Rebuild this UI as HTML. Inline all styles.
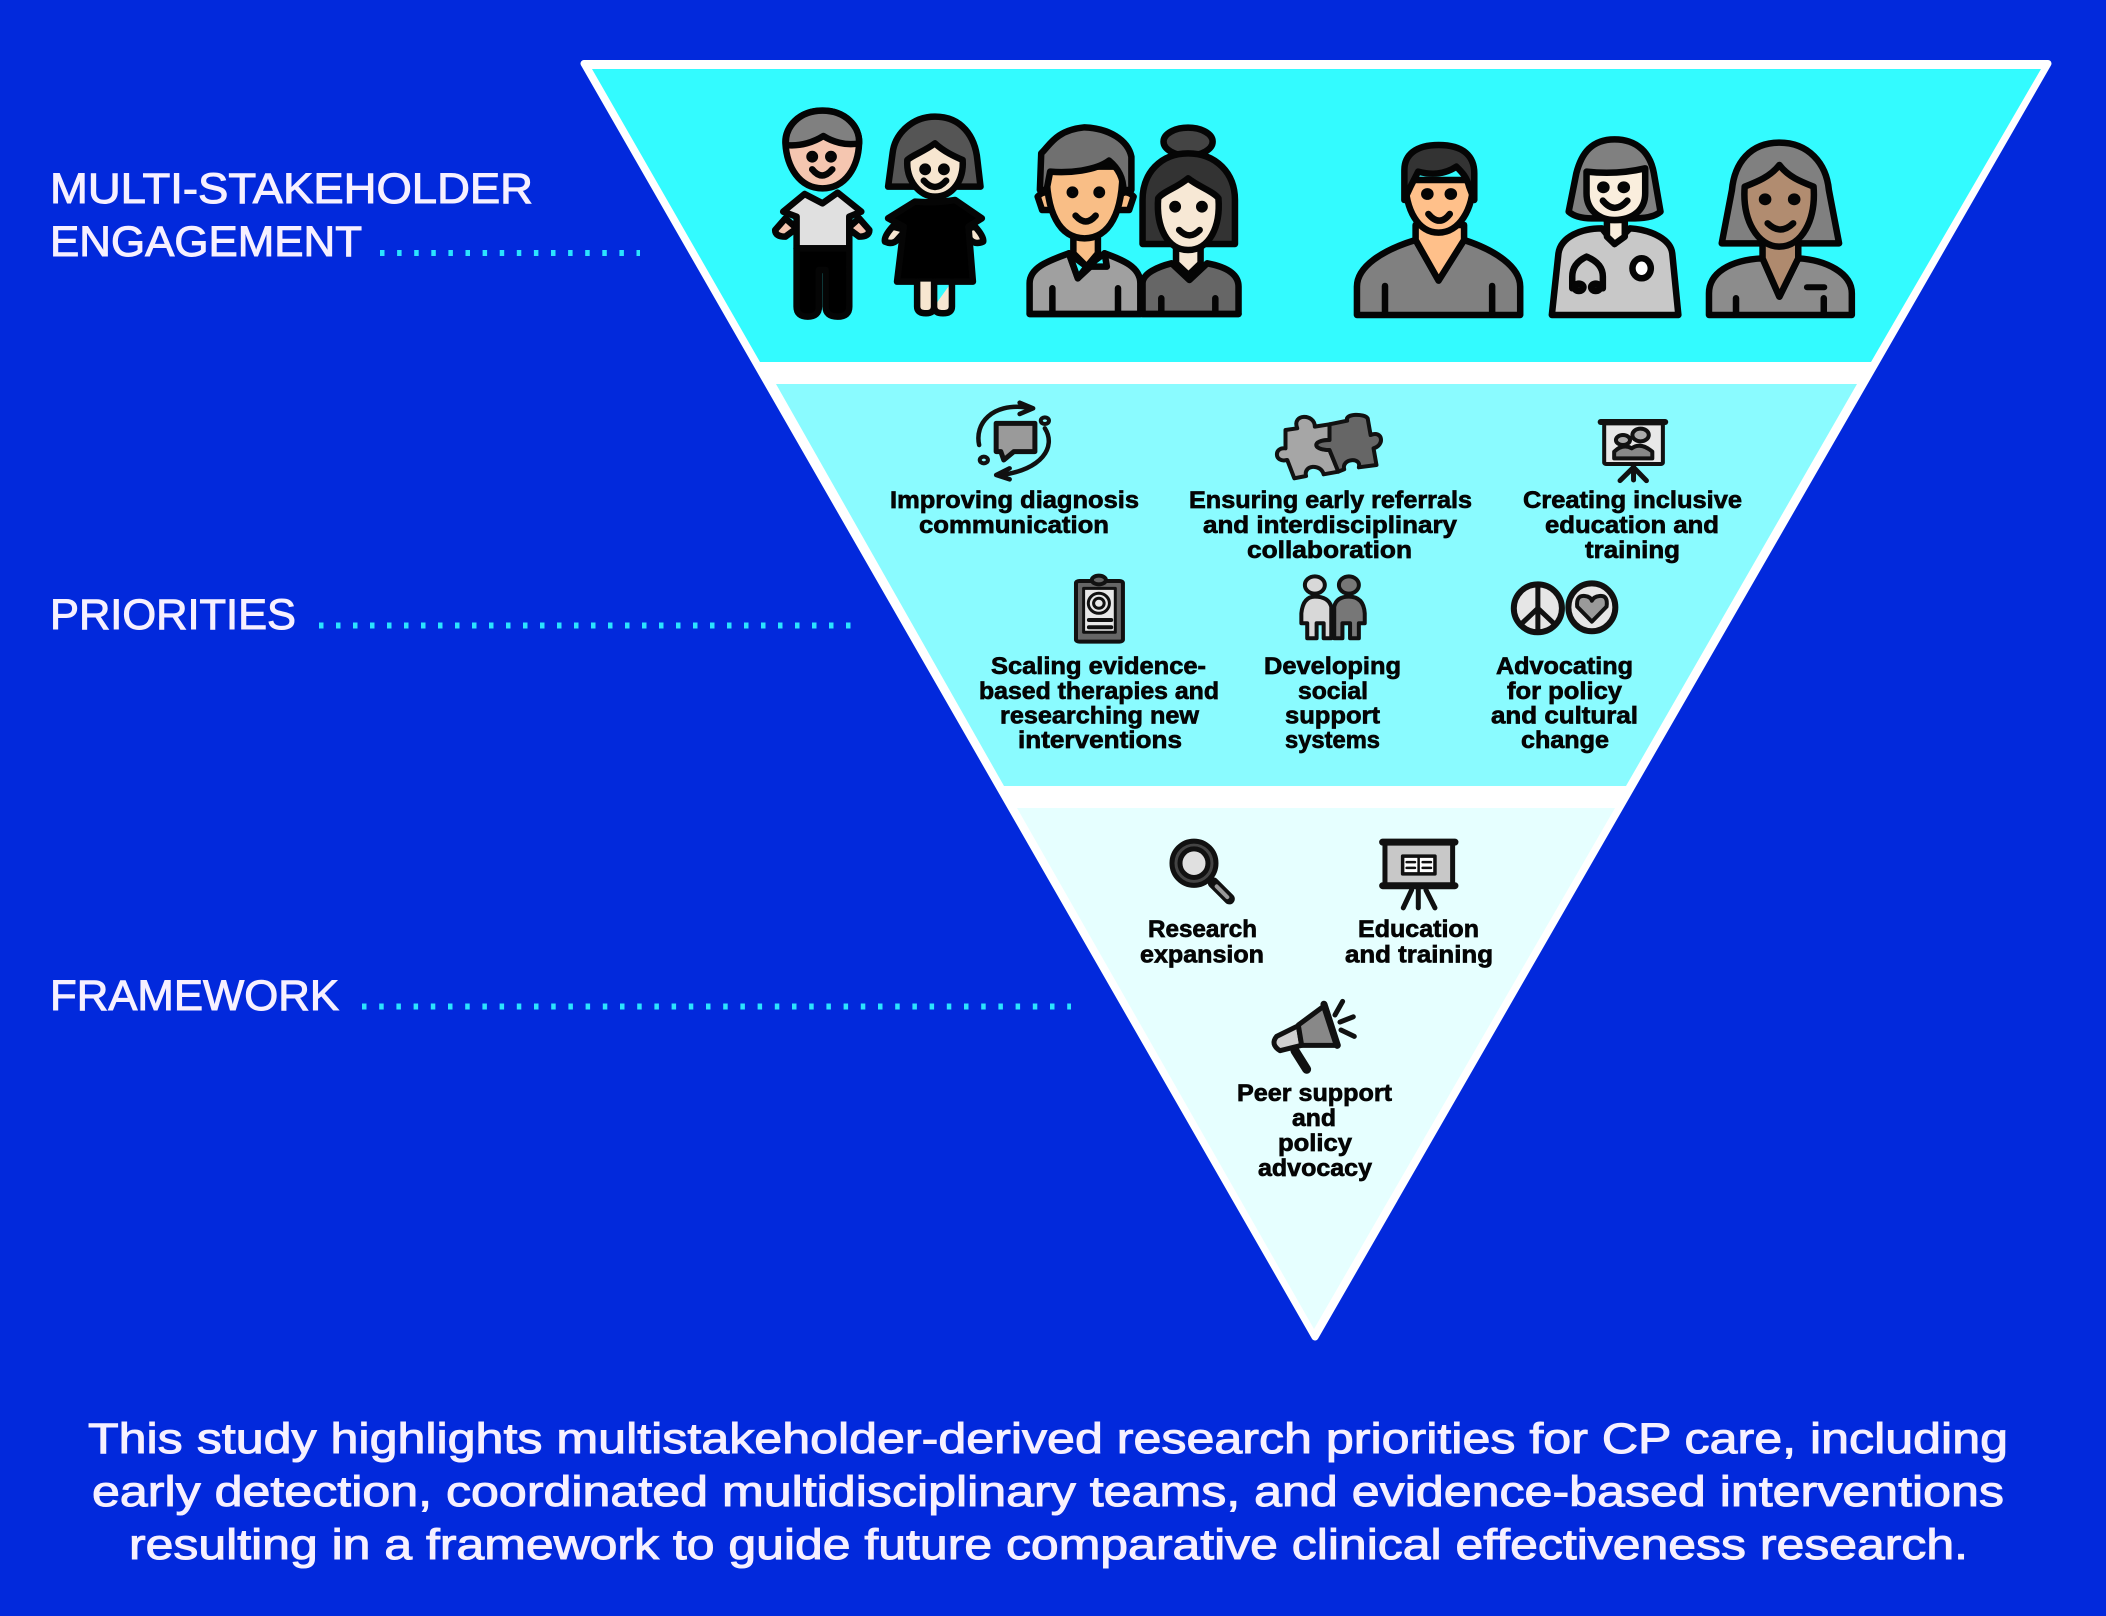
<!DOCTYPE html>
<html><head><meta charset="utf-8"><style>
html,body{margin:0;padding:0;background:#0229dc}
svg{display:block}
text{font-family:"Liberation Sans",sans-serif}
.h{font-size:43px;fill:#f6f0ff;stroke:#f6f0ff;stroke-width:1}
.b{font-size:43px;fill:#f6f0ff;stroke:#f6f0ff;stroke-width:1}
.l{font-size:24.5px;font-weight:bold;fill:#050505;stroke:#050505;stroke-width:.7}
.i *{vector-effect:non-scaling-stroke;stroke-linejoin:round;stroke-linecap:round}
.s5 *{stroke:#050505;stroke-width:6.5}
.s3 *{stroke:#111;stroke-width:4}
.s4 *{stroke:#111;stroke-width:5}
</style></head><body>
<svg xmlns="http://www.w3.org/2000/svg" width="2106" height="1616" viewBox="0 0 2106 1616">
<rect width="2106" height="1616" fill="#0229dc"/>
<polygon points="584,63.5 2048,63.5 1315,1337" fill="#fff" stroke="#fff" stroke-width="7" stroke-linejoin="round"/>
<polygon points="592,69 2041,69 1871,362 760,362" fill="#33fbff"/>
<polygon points="776,384 1857,384 1626,786 1004,786" fill="#8afbff"/>
<polygon points="1017,808 1615,808 1314,1329" fill="#e6ffff"/>

<!-- headings -->
<text class="h" x="50" y="203" textLength="483" lengthAdjust="spacingAndGlyphs">MULTI-STAKEHOLDER</text>
<text class="h" x="50" y="256" textLength="312" lengthAdjust="spacingAndGlyphs">ENGAGEMENT</text>
<text class="h" x="50" y="629" textLength="246" lengthAdjust="spacingAndGlyphs">PRIORITIES</text>
<text class="h" x="50" y="1010" textLength="289" lengthAdjust="spacingAndGlyphs">FRAMEWORK</text>
<g stroke="#2be3ff" stroke-width="6" fill="none">
<line x1="380" y1="253" x2="640" y2="253" stroke-dasharray="4.5 12.6"/>
<line x1="319" y1="625.5" x2="852" y2="625.5" stroke-dasharray="4.5 12.5"/>
<line x1="362" y1="1006.5" x2="1071" y2="1006.5" stroke-dasharray="4.5 12.7"/>
</g>

<!-- people left -->
<g class="i s5" transform="translate(560 40) scale(.4464 .3333)">
 <path fill="#f5c6b0" d="M588 212C640 212 672 260 670 310C668 380 640 445 588 445C536 445 508 380 505 310C503 260 536 212 588 212Z"/>
 <path fill="#808080" d="M588 212C640 212 672 260 670 310C640 318 610 305 590 288C570 305 540 320 506 315C503 260 536 212 588 212Z"/>
 <ellipse fill="#111" cx="565" cy="350" rx="6" ry="8"/><ellipse fill="#111" cx="607" cy="350" rx="6" ry="8"/>
 <path fill="none" d="M565 388Q587 425 610 388"/>
 <path fill="#f5c6b0" d="M505 535L482 570Q482 590 505 590L530 565ZM670 535L693 570Q693 590 670 590L645 565Z"/>
 <path fill="#e0e0e0" d="M548 462L588 490L622 458L675 515L648 530V625H530V530L500 515Z"/>
 <path fill="#000" d="M530 625H648V800Q648 830 622 830Q595 830 595 800V690H580V800Q580 830 555 830Q530 830 530 800Z"/>

 <path fill="#555" d="M840 230C900 230 930 290 935 360L942 440H735L745 340C750 280 790 230 840 230Z"/>
 <path fill="#f7e6d0" d="M840 310C815 335 790 345 778 360C775 420 805 470 840 470C880 470 905 420 902 360C885 350 860 335 840 310Z"/>
 <ellipse fill="#111" cx="818" cy="388" rx="6" ry="8"/><ellipse fill="#111" cx="860" cy="388" rx="6" ry="8"/>
 <path fill="none" d="M815 422Q840 460 865 422"/>
 <path fill="#f7e6d0" d="M745 560Q725 590 728 605Q745 615 755 600L775 570ZM930 560Q950 590 948 605Q930 615 920 600L900 570Z"/>
 <path fill="#000" d="M795 485Q840 490 885 480L945 535L915 560L925 725H755L770 560L735 535Z"/>
 <path fill="#f7e6d0" d="M800 725V800Q800 820 820 820Q838 820 838 800V725M838 800Q838 820 858 820Q878 820 878 800V725"/>

 <path fill="#f9be86" d="M1070 470Q1090 440 1110 480V510H1080Z M1285 470Q1265 440 1245 480V510H1275Z"/>
 <path fill="#a0a0a0" d="M1052 822V730C1052 680 1100 660 1140 640L1160 715L1220 640C1260 660 1300 680 1300 730V822Z"/>
 <path fill="#f9be86" d="M1150 590V640L1180 680L1205 640V590Z"/>
 <path fill="#33fbff" d="M1140 640L1160 715L1180 680ZM1220 640L1225 680L1180 680Z"/>
 <path fill="#f9be86" d="M1090 380C1088 520 1120 595 1175 595C1230 595 1262 520 1260 380Z"/>
 <path fill="#707070" d="M1078 340C1095 320 1110 270 1175 262C1230 265 1272 300 1280 350V450H1262C1262 420 1255 390 1230 362C1200 392 1140 400 1098 395L1090 450H1075Z"/>
 <ellipse fill="#111" cx="1148" cy="457" rx="6" ry="8"/><ellipse fill="#111" cx="1208" cy="457" rx="6" ry="8"/>
 <path fill="none" d="M1155 527Q1178 562 1200 527"/>
 <path fill="none" d="M1103 745V820M1250 745V820"/>
 <ellipse fill="#444" cx="1407" cy="305" rx="55" ry="42"/>
 <path fill="#333" d="M1407 340C1470 340 1512 400 1512 480V612H1305V480C1305 400 1345 340 1407 340Z"/>
 <path fill="#666" d="M1305 822V730C1305 700 1340 680 1370 670L1410 720L1450 670C1490 680 1520 700 1520 740V822Z"/>
 <path fill="#f7e8d5" d="M1380 625V670L1408 705L1435 670V625Z"/>
 <path fill="#f7e8d5" d="M1407 415C1380 445 1350 455 1340 475C1335 560 1360 630 1407 630C1455 630 1480 560 1475 475C1465 455 1430 440 1407 415Z"/>
 <ellipse fill="#111" cx="1378" cy="500" rx="6" ry="8"/><ellipse fill="#111" cx="1438" cy="500" rx="6" ry="8"/>
 <path fill="none" d="M1387 570Q1410 602 1433 570"/>
 <path fill="none" d="M1347 775V820M1468 775V820M1052 822H1520"/>
</g>

<!-- people right -->
<g class="i s5" transform="translate(1260 40) scale(.5102 .3333)">
 <path fill="#808080" d="M190 825V740C190 680 240 630 305 600L350 720L400 600C460 630 510 680 510 740V825Z"/>
 <path fill="#ffc08a" d="M305 555V600L350 722L400 600V555Z"/>
 <path fill="#ffc08a" d="M285 420C285 510 310 578 350 578C390 578 418 510 418 420Z"/>
 <path fill="#333" d="M350 315C400 315 420 350 420 400V480L410 440C405 410 395 395 385 380C360 405 335 405 310 395L295 440L283 480V390C283 345 305 315 350 315Z"/>
 <ellipse fill="#111" cx="328" cy="462" rx="6" ry="8"/><ellipse fill="#111" cx="374" cy="462" rx="6" ry="8"/>
 <path fill="none" d="M330 522Q352 562 372 522M245 738V822M455 738V822"/>

 <path fill="#c8c8c8" d="M572 825L585 640C590 590 630 565 670 565L695 612L725 565C770 570 805 600 808 640L820 825Z"/>
 <path fill="#808080" d="M695 298C740 298 765 340 772 400L785 515Q770 535 735 535H650Q620 535 605 515L620 400C630 340 650 298 695 298Z"/>
 <path fill="#faeedd" d="M680 540V590L695 612L715 590V540Z"/>
 <path fill="#faeedd" d="M640 395Q700 405 755 385V460C755 510 730 540 695 540C665 540 640 510 640 460Z"/>
 <ellipse fill="#111" cx="673" cy="442" rx="6" ry="8"/><ellipse fill="#111" cx="713" cy="442" rx="6" ry="8"/>
 <path fill="none" d="M672 482Q695 525 720 482"/>
 <path fill="none" d="M640 650Q612 670 612 710V745M640 650Q672 670 672 710V745"/>
 <ellipse fill="#111" cx="625" cy="742" rx="9" ry="11"/><ellipse fill="#111" cx="658" cy="742" rx="9" ry="11"/>
 <ellipse fill="#fff" cx="748" cy="685" rx="18" ry="30"/>

 <path fill="#808080" d="M1018 308C1075 308 1110 370 1115 450L1135 610H905L925 450C930 370 960 308 1018 308Z"/>
 <path fill="#8c8c8c" d="M880 825V760C880 700 920 660 985 655L1018 770L1055 655C1110 660 1160 700 1160 760V825Z"/>
 <path fill="#af8a6e" d="M985 600V655L1018 770L1055 655V600Z"/>
 <path fill="#b18c70" d="M1018 375C1000 410 975 425 950 440C945 540 975 620 1018 620C1062 620 1090 540 1085 440C1060 425 1035 410 1018 375Z"/>
 <ellipse fill="#111" cx="990" cy="478" rx="6" ry="8"/><ellipse fill="#111" cx="1047" cy="478" rx="6" ry="8"/>
 <path fill="none" d="M995 550Q1020 587 1045 550M933 775V822M1105 775V822"/>
 <path fill="none" d="M1072 742H1106" style="stroke-width:6"/>
</g>

<!-- priority icons -->
<g class="i s3" transform="translate(860 380) scale(.5869 .3333)">
 <path fill="#9a9a9a" d="M232 130H298V215H262L245 240L240 215H232Z" style="stroke-width:5"/>
 <path fill="none" d="M282 82C225 70 195 130 203 195M315 145C335 200 310 270 240 285M272 68L295 85L272 102M255 265L232 285L255 298" style="stroke-width:4.5"/>
 <ellipse fill="#8afbff" cx="315" cy="122" rx="7" ry="10"/><ellipse fill="#8afbff" cx="211" cy="240" rx="7" ry="10"/>

 <path fill="#a6a6a6" d="M725 150L745 145C735 100 775 100 775 140L800 133L800 180C770 180 770 210 800 210L815 275L790 283C785 250 755 255 760 288L740 295L728 240C705 250 705 200 725 205Z"/>
 <path fill="#666" d="M800 133L830 122C825 100 860 100 865 115L870 165C890 150 895 195 875 205L880 255L850 262C855 230 820 235 825 268L815 275L800 210C770 210 770 180 800 180Z"/>

 <rect fill="#e8e8e8" x="1268" y="130" width="100" height="122" rx="4"/>
 <path fill="none" d="M1262 126H1372" style="stroke-width:6"/>
 <ellipse fill="#aaa" cx="1300" cy="180" rx="12" ry="15"/><ellipse fill="#aaa" cx="1330" cy="165" rx="14" ry="19"/>
 <path fill="#888" d="M1285 235V215Q1300 190 1315 205Q1330 185 1350 215V235Z"/>
 <path fill="none" d="M1318 255V300M1318 262L1295 302M1318 262L1340 302" style="stroke-width:5"/>

 <rect fill="#666" x="368" y="603" width="80" height="182" rx="6"/>
 <rect fill="#e8e8e8" x="381" y="625" width="54" height="132" style="stroke-width:3"/>
 <ellipse fill="#666" cx="407" cy="600" rx="12" ry="13"/>
 <ellipse fill="none" cx="407" cy="670" rx="18" ry="30" style="stroke-width:3"/><ellipse fill="none" cx="407" cy="670" rx="9" ry="15" style="stroke-width:3"/>
 <path fill="none" d="M390 720H428M390 742H428"/>

 <ellipse fill="#d8d8d8" cx="775" cy="615" rx="17" ry="26"/><ellipse fill="#777" cx="833" cy="615" rx="17" ry="26"/>
 <path fill="#d8d8d8" d="M752 700Q755 650 775 650Q798 650 803 680V775H790V730H778V775H762V730H752Z"/>
 <path fill="#777" d="M808 680Q812 650 833 650Q858 650 860 700V730H850V775H835V730H822V775H808Z"/>

 <ellipse fill="#e6e6e6" cx="1155" cy="685" rx="41" ry="72" style="stroke-width:6"/>
 <path fill="none" d="M1155 615V755M1155 685L1125 735M1155 685L1185 735" style="stroke-width:5"/>
 <ellipse fill="#e6e6e6" cx="1247" cy="682" rx="40" ry="72" style="stroke-width:6"/>
 <path fill="#9a9a9a" d="M1247 725L1222 680Q1220 645 1235 648Q1245 650 1247 662Q1250 650 1260 648Q1275 645 1272 680Z"/>
</g>

<!-- framework icons -->
<g class="i s4" transform="translate(1050 790) scale(.3333 .3571)">
 <path fill="none" d="M490 260L538 305" style="stroke-width:11"/>
 <path fill="none" d="M500 270L532 300" style="stroke:#999;stroke-width:4"/>
 <ellipse fill="#444" cx="432" cy="205" rx="66" ry="62"/>
 <ellipse fill="#e0e0e0" cx="432" cy="205" rx="42" ry="40"/>

 <rect fill="#c8c8c8" x="1005" y="145" width="203" height="122"/>
 <path fill="none" d="M998 146H1215M998 268H1215" style="stroke-width:7"/>
 <path fill="#fff" d="M1058 185H1155V235H1058Z" style="stroke-width:3.5"/>
 <path fill="none" d="M1106 185V235M1070 202H1095M1070 218H1095M1118 202H1143M1118 218H1143" style="stroke-width:2.5"/>
 <path fill="none" d="M1105 278V330M1085 280L1060 330M1128 280L1155 330" style="stroke-width:5"/>

 <path fill="none" d="M735 730L770 782" style="stroke-width:9"/>
 <path fill="#d0d0d0" d="M680 690L745 660L755 715L690 730Q660 712 680 690Z"/>
 <path fill="#888" d="M745 658L822 605L860 715L755 715Z"/>
 <path fill="none" d="M822 600L862 715" style="stroke-width:7"/>
 <path fill="none" d="M878 592L855 630M910 635L870 650M913 690L873 672"/>
</g>

<!-- labels -->
<text class="l" x="890" y="508" textLength="249" lengthAdjust="spacingAndGlyphs">Improving diagnosis</text>
<text class="l" x="919" y="533" textLength="190" lengthAdjust="spacingAndGlyphs">communication</text>
<text class="l" x="1189" y="508" textLength="283" lengthAdjust="spacingAndGlyphs">Ensuring early referrals</text>
<text class="l" x="1203" y="533" textLength="254" lengthAdjust="spacingAndGlyphs">and interdisciplinary</text>
<text class="l" x="1247" y="558" textLength="165" lengthAdjust="spacingAndGlyphs">collaboration</text>
<text class="l" x="1523" y="508" textLength="219" lengthAdjust="spacingAndGlyphs">Creating inclusive</text>
<text class="l" x="1545" y="533" textLength="174" lengthAdjust="spacingAndGlyphs">education and</text>
<text class="l" x="1585" y="558" textLength="95" lengthAdjust="spacingAndGlyphs">training</text>
<text class="l" x="991" y="674" textLength="215" lengthAdjust="spacingAndGlyphs">Scaling evidence-</text>
<text class="l" x="979" y="699" textLength="240" lengthAdjust="spacingAndGlyphs">based therapies and</text>
<text class="l" x="1000" y="723.500" textLength="199" lengthAdjust="spacingAndGlyphs">researching new</text>
<text class="l" x="1018" y="748" textLength="164" lengthAdjust="spacingAndGlyphs">interventions</text>
<text class="l" x="1264" y="674" textLength="137" lengthAdjust="spacingAndGlyphs">Developing</text>
<text class="l" x="1298" y="699" textLength="70" lengthAdjust="spacingAndGlyphs">social</text>
<text class="l" x="1285" y="723.500" textLength="95" lengthAdjust="spacingAndGlyphs">support</text>
<text class="l" x="1285" y="748" textLength="95" lengthAdjust="spacingAndGlyphs">systems</text>
<text class="l" x="1496" y="674" textLength="137" lengthAdjust="spacingAndGlyphs">Advocating</text>
<text class="l" x="1507" y="699" textLength="115" lengthAdjust="spacingAndGlyphs">for policy</text>
<text class="l" x="1491" y="723.500" textLength="147" lengthAdjust="spacingAndGlyphs">and cultural</text>
<text class="l" x="1521" y="748" textLength="88" lengthAdjust="spacingAndGlyphs">change</text>
<text class="l" x="1148" y="937" textLength="109" lengthAdjust="spacingAndGlyphs">Research</text>
<text class="l" x="1140" y="962.500" textLength="124" lengthAdjust="spacingAndGlyphs">expansion</text>
<text class="l" x="1358" y="937" textLength="121" lengthAdjust="spacingAndGlyphs">Education</text>
<text class="l" x="1345" y="962.500" textLength="148" lengthAdjust="spacingAndGlyphs">and training</text>
<text class="l" x="1237" y="1101" textLength="155" lengthAdjust="spacingAndGlyphs">Peer support</text>
<text class="l" x="1292" y="1126" textLength="44" lengthAdjust="spacingAndGlyphs">and</text>
<text class="l" x="1278" y="1151" textLength="74" lengthAdjust="spacingAndGlyphs">policy</text>
<text class="l" x="1258" y="1176" textLength="114" lengthAdjust="spacingAndGlyphs">advocacy</text>

<!-- bottom paragraph -->
<text class="b" x="88" y="1453" textLength="1920" lengthAdjust="spacingAndGlyphs">This study highlights multistakeholder-derived research priorities for CP care, including</text>
<text class="b" x="92" y="1506" textLength="1912" lengthAdjust="spacingAndGlyphs">early detection, coordinated multidisciplinary teams, and evidence-based interventions</text>
<text class="b" x="129" y="1559" textLength="1839" lengthAdjust="spacingAndGlyphs">resulting in a framework to guide future comparative clinical effectiveness research.</text>
</svg>
</body></html>
